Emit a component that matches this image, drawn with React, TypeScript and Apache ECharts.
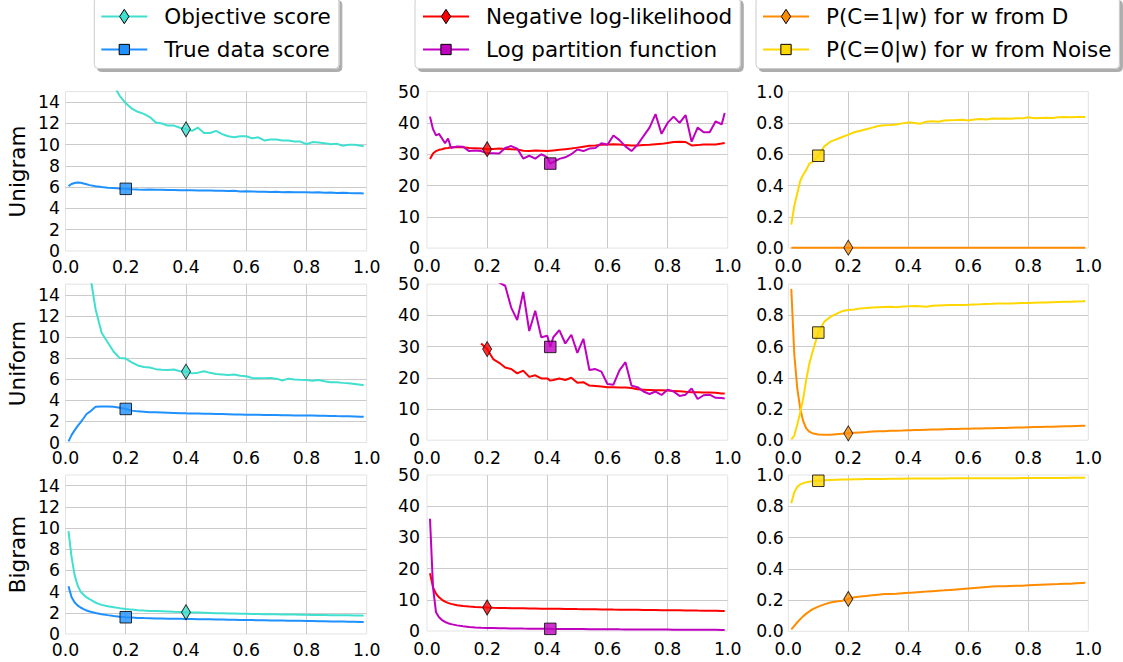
import { useEffect, useRef } from 'react';
import * as echarts from 'echarts';

// shared x positions (fraction of training)
const X = [0.01,0.02,0.03,0.04,0.05,0.06,0.07,0.08,
  0.10,0.12,0.14,0.16,0.18,0.20,0.22,0.24,
  0.26,0.28,0.30,0.32,0.34,0.36,0.38,0.40,
  0.41,0.42,0.44,0.46,0.48,0.50,0.52,0.54,
  0.56,0.58,0.60,0.62,0.64,0.66,0.68,0.70,
  0.72,0.74,0.76,0.78,0.80,0.82,0.84,0.86,
  0.88,0.90,0.92,0.94,0.96,0.98,0.99];

const ROW_NAMES = ['Unigram', 'Uniform', 'Bigram'];
const SERIES_NAMES = ['Objective score', 'True data score', 'Negative log-likelihood', 'Log partition function', 'P(C=1|w) for w from D', 'P(C=0|w) for w from Noise'];
const SERIES_COLORS = ['#40E0D0', '#1E90FF', '#FF0000', '#BF00BF', '#FF8C00', '#FFD700'];
const SERIES_MARKER = ['diamond', 'square', 'diamond', 'square', 'diamond', 'square'];
const MARK_X = [0.4, 0.2, 0.2, 0.41, 0.2, 0.1];

const X_TICKS = [0, 0.2, 0.4, 0.6, 0.8, 1.0];
const Y_RANGES = [[0, 15, 2], [0, 50, 10], [0, 1, 0.2]];

// ---- Unigram ----
const UNI_OBJ = [40,37,34,31,28,26,24,22.5,
  20,18.3,16.8,15.6,14.6,13.9,13.4,13.1,
  12.9,12.6,12.1,12.0,11.8,11.8,11.6,11.45,
  11.4,11.3,11.6,11.1,11.1,11.3,11.0,10.8,
  10.7,10.8,10.8,10.6,10.7,10.4,10.5,10.5,
  10.4,10.4,10.3,10.3,10.05,10.25,10.2,10.15,
  10.05,10.1,9.9,10.0,10.0,9.9,9.85];
const UNI_TRUE = [6.1,6.3,6.4,6.45,6.42,6.35,6.28,6.2,
  6.1,6.02,5.95,5.92,5.88,5.85,5.8,5.78,
  5.77,5.78,5.76,5.77,5.74,5.75,5.72,5.72,
  5.71,5.71,5.7,5.69,5.7,5.66,5.67,5.64,
  5.66,5.6,5.62,5.6,5.58,5.58,5.56,5.57,
  5.54,5.55,5.53,5.52,5.54,5.5,5.52,5.48,
  5.5,5.46,5.47,5.45,5.44,5.43,5.42];
const UNI_NLL = [28.5,30.2,31.0,31.4,31.6,31.9,32.0,32.2,
  32.3,32.2,32.0,31.9,31.8,31.6,31.7,31.8,
  31.7,31.6,31.5,31.1,31.0,31.2,31.1,31.0,
  31.1,31.2,31.4,31.6,31.8,32.1,32.4,32.7,
  32.8,33.0,33.1,33.2,33.1,32.9,32.8,32.8,
  32.9,33.0,33.2,33.3,33.6,33.9,34.0,33.9,
  32.8,32.9,33.1,33.1,33.1,33.4,33.6];
const UNI_LOGZ = [42,38,36,36.5,35,33.5,35,32,
  32.5,32.4,31.0,31.2,31.0,30.3,30.3,30.2,
  32.0,32.6,31.8,28.6,29.5,28.6,30.0,29.0,
  27.0,27.5,28.5,29.0,30.0,31.5,31.0,31.8,
  32.0,33.5,33.0,36.0,34.5,32.5,31.0,33.0,
  35.8,38.5,42.8,36.5,40.0,42.0,40.0,42.5,
  34.0,38.5,37.0,37.0,40.5,39.5,43.2];
const UNI_D = [0.003,0.003,0.003,0.003,0.003,0.003,0.003,0.003,
  0.003,0.003,0.003,0.003,0.003,0.003,0.003,0.003,
  0.003,0.003,0.003,0.003,0.003,0.003,0.003,0.003,
  0.003,0.003,0.003,0.003,0.003,0.003,0.003,0.003,
  0.003,0.003,0.003,0.003,0.003,0.003,0.003,0.003,
  0.003,0.003,0.003,0.003,0.003,0.003,0.003,0.003,
  0.003,0.003,0.003,0.003,0.003,0.003,0.003];
const UNI_NOISE = [0.15,0.27,0.35,0.43,0.47,0.5,0.54,0.55,
  0.59,0.65,0.68,0.695,0.71,0.725,0.74,0.75,
  0.76,0.77,0.78,0.785,0.787,0.79,0.797,0.803,
  0.802,0.80,0.795,0.808,0.81,0.808,0.815,0.817,
  0.818,0.82,0.815,0.822,0.825,0.822,0.828,0.826,
  0.828,0.827,0.83,0.829,0.836,0.83,0.832,0.833,
  0.832,0.836,0.838,0.836,0.837,0.838,0.838];

// ---- Uniform ----
const UNF_OBJ = [45,38,32,27,23,20,18,16.2,
  12.6,10.4,9.5,8.6,8.0,7.95,7.6,7.3,
  7.15,7.1,6.95,6.9,6.88,6.92,6.75,6.72,
  6.65,6.55,6.62,6.75,6.6,6.5,6.45,6.4,
  6.45,6.32,6.28,6.12,6.08,6.1,6.12,6.05,
  5.88,6.05,5.98,5.94,5.92,5.85,5.92,5.8,
  5.72,5.7,5.65,5.62,5.55,5.47,5.43];
const UNF_TRUE = [0.1,0.7,1.15,1.55,1.9,2.3,2.7,2.9,
  3.38,3.42,3.42,3.38,3.3,3.18,3.02,2.95,
  2.92,2.87,2.86,2.84,2.82,2.8,2.78,2.76,
  2.755,2.75,2.74,2.73,2.72,2.7,2.69,2.68,
  2.66,2.65,2.63,2.63,2.62,2.61,2.6,2.6,
  2.58,2.58,2.57,2.57,2.56,2.55,2.54,2.53,
  2.52,2.5,2.49,2.48,2.46,2.44,2.43];
const UNF_NLL = [null,null,null,null,null,null,null,null,
  null,null,null,null,31.0,29.2,26.0,24.8,
  23.3,22.8,21.4,22.3,20.3,20.8,19.8,19.8,
  19.1,19.3,19.8,19.3,20.0,18.4,18.6,17.5,
  17.4,17.2,17.0,17.0,16.9,16.9,16.7,16.3,
  16.2,16.1,16.0,16.0,15.9,15.8,15.7,15.5,
  15.4,15.4,15.3,15.3,15.2,15.0,15.0];
const UNF_LOGZ = [null,null,null,null,null,null,null,null,
  null,null,null,null,62,58,54,50.5,
  49.5,42.5,38.5,47.5,35.0,41.5,33.0,33.5,
  29.9,33.0,35.3,31.0,33.8,28.0,32.5,22.5,
  22.8,22.0,18.0,17.8,22.4,25.0,17.5,17.0,
  15.6,14.8,15.6,14.5,16.2,15.6,14.2,14.6,
  16.6,13.2,14.4,14.6,13.6,13.5,13.4];
const UNF_D = [0.97,0.55,0.33,0.2,0.12,0.075,0.055,0.045,
  0.037,0.035,0.035,0.038,0.041,0.044,0.047,0.05,
  0.052,0.055,0.057,0.058,0.06,0.061,0.062,0.064,
  0.064,0.065,0.066,0.067,0.068,0.069,0.07,0.071,
  0.072,0.073,0.074,0.075,0.075,0.076,0.077,0.078,
  0.079,0.08,0.081,0.082,0.083,0.084,0.085,0.086,
  0.087,0.088,0.089,0.09,0.091,0.092,0.092];
const UNF_NOISE = [0.005,0.03,0.1,0.18,0.27,0.39,0.49,0.56,
  0.69,0.76,0.79,0.81,0.828,0.834,0.838,0.845,
  0.847,0.85,0.852,0.854,0.855,0.852,0.857,0.858,
  0.859,0.86,0.858,0.855,0.862,0.864,0.865,0.866,
  0.866,0.867,0.868,0.87,0.871,0.873,0.874,0.876,
  0.876,0.877,0.878,0.879,0.88,0.881,0.882,0.883,
  0.885,0.886,0.887,0.888,0.889,0.89,0.891];

// ---- Bigram ----
const BI_OBJ = [9.7,7.3,5.6,4.6,4.0,3.7,3.45,3.28,
  2.95,2.75,2.62,2.53,2.44,2.36,2.3,2.25,
  2.21,2.18,2.16,2.14,2.12,2.09,2.07,2.05,
  2.045,2.04,2.02,2.0,1.98,1.96,1.95,1.94,
  1.93,1.91,1.9,1.89,1.88,1.87,1.87,1.86,
  1.85,1.84,1.83,1.82,1.81,1.8,1.8,1.79,
  1.78,1.77,1.77,1.76,1.75,1.74,1.74];
const BI_TRUE = [4.5,3.5,3.0,2.7,2.5,2.35,2.22,2.12,
  1.98,1.87,1.78,1.7,1.63,1.58,1.55,1.52,
  1.5,1.49,1.47,1.46,1.45,1.44,1.43,1.42,
  1.415,1.41,1.4,1.39,1.38,1.37,1.36,1.35,
  1.34,1.33,1.32,1.31,1.3,1.29,1.28,1.28,
  1.27,1.26,1.25,1.24,1.23,1.22,1.21,1.2,
  1.19,1.18,1.17,1.16,1.15,1.14,1.14];
const BI_NLL = [18.5,14.0,12.0,10.8,10.0,9.4,9.0,8.7,
  8.25,8.0,7.85,7.72,7.6,7.52,7.45,7.4,
  7.36,7.32,7.29,7.26,7.23,7.2,7.17,7.15,
  7.14,7.12,7.1,7.07,7.05,7.02,7.0,6.97,
  6.95,6.92,6.9,6.87,6.85,6.83,6.8,6.78,
  6.76,6.73,6.71,6.69,6.67,6.64,6.62,6.6,
  6.58,6.55,6.53,6.5,6.48,6.45,6.44];
const BI_LOGZ = [36,14,6.0,4.4,3.5,2.9,2.5,2.2,
  1.8,1.5,1.3,1.15,1.05,0.98,0.93,0.88,
  0.85,0.82,0.8,0.77,0.75,0.73,0.71,0.7,
  0.69,0.68,0.67,0.65,0.64,0.62,0.61,0.6,
  0.58,0.57,0.56,0.55,0.53,0.52,0.51,0.5,
  0.49,0.48,0.47,0.46,0.45,0.44,0.43,0.42,
  0.41,0.4,0.39,0.38,0.37,0.36,0.35];
const BI_D = [0.012,0.035,0.058,0.078,0.097,0.113,0.127,0.14,
  0.158,0.172,0.184,0.19,0.196,0.207,0.218,0.222,
  0.226,0.23,0.234,0.238,0.239,0.241,0.244,0.246,
  0.247,0.249,0.252,0.254,0.257,0.26,0.262,0.265,
  0.268,0.271,0.274,0.277,0.28,0.283,0.286,0.288,
  0.289,0.29,0.291,0.292,0.294,0.296,0.298,0.3,
  0.301,0.302,0.304,0.305,0.307,0.309,0.31];
const BI_NOISE = [0.82,0.89,0.925,0.94,0.948,0.953,0.957,0.96,
  0.963,0.966,0.968,0.97,0.971,0.972,0.973,0.973,
  0.974,0.974,0.975,0.975,0.976,0.976,0.976,0.977,
  0.977,0.977,0.977,0.978,0.978,0.978,0.978,0.979,
  0.979,0.979,0.979,0.979,0.98,0.98,0.98,0.98,
  0.98,0.98,0.98,0.981,0.981,0.981,0.981,0.981,
  0.981,0.981,0.981,0.982,0.982,0.982,0.982];

const ROW_DATA = [
  [UNI_OBJ, UNI_TRUE, UNI_NLL, UNI_LOGZ, UNI_D, UNI_NOISE],
  [UNF_OBJ, UNF_TRUE, UNF_NLL, UNF_LOGZ, UNF_D, UNF_NOISE],
  [BI_OBJ, BI_TRUE, BI_NLL, BI_LOGZ, BI_D, BI_NOISE],
];

// ---- layout (pixels) ----
const FONT = 'DejaVu Sans';
const COL_LEFT = [65.5, 427, 788.3];
const COL_WIDTH = [301.2, 300.7, 300];
const ROW_TOP = [91.6, 284.2, 475];
const GRID_H = [[159.4, 158.3, 159], [156.5, 156, 156], [156.5, 156, 156.3]];
const X_LABEL_MARGIN = [7, 9.5, 9.5];
const Y_LABEL_MARGIN = [5.5, 7, 4.5];
const LEGEND_LEFT = [94.3, 415, 756];
const LEGEND_PAD_LEFT = [6, 7, 6];
const ROW_LABEL_Y = [171.5, 363.5, 554.5];

const DIAMOND_PATH = 'path://M0,0M14,14M7,0L11.5,7L7,14L2.5,7Z';
const SQUARE_PATH = 'path://M0,0M14,14M2,2L12,2L12,12L2,12Z';

function buildOption() {
  const grid: any[] = [];
  const xAxis: any[] = [];
  const yAxis: any[] = [];
  const series: any[] = [];
  for (let r = 0; r < 3; r++) {
    for (let c = 0; c < 3; c++) {
      const idx = r * 3 + c;
      grid.push({
        left: COL_LEFT[c], top: ROW_TOP[r], width: COL_WIDTH[c], height: GRID_H[c][r],
        show: true, borderColor: '#e3e3e3', borderWidth: 1, backgroundColor: '#fff',
      });
      xAxis.push({
        type: 'value', gridIndex: idx, min: X_TICKS[0], max: X_TICKS[X_TICKS.length - 1], interval: 0.2,
        axisLine: { show: false }, axisTick: { show: false },
        splitLine: { show: true, showMinLine: false, showMaxLine: false, lineStyle: { color: '#cbcbcb', width: 1 } },
        axisLabel: { margin: X_LABEL_MARGIN[c], fontSize: 17.3, fontFamily: FONT, color: '#000',
          formatter: (v: number) => v.toFixed(1) },
      });
      const [ymin, ymax, yint] = Y_RANGES[c];
      yAxis.push({
        type: 'value', gridIndex: idx, min: ymin, max: ymax, interval: yint,
        axisLine: { show: false }, axisTick: { show: false },
        splitLine: { show: true, showMinLine: false, showMaxLine: false, lineStyle: { color: '#cbcbcb', width: 1 } },
        axisLabel: { margin: Y_LABEL_MARGIN[c], fontSize: 17.3, lineHeight: 13, fontFamily: FONT, color: '#000',
          showMaxLabel: c !== 0,
          formatter: (v: number) => (c === 2 ? v.toFixed(1) : String(Math.round(v))) },
      });
      const markers: any[] = [];
      for (let k = 0; k < 2; k++) {
        const si = c * 2 + k;
        const arr = ROW_DATA[r][si];
        const data = X.map((x, i) => [x, arr[i]]).filter((p) => p[1] !== null);
        const isDiamond = SERIES_MARKER[si] === 'diamond';
        series.push({
          type: 'line', name: SERIES_NAMES[si], xAxisIndex: idx, yAxisIndex: idx,
          data, showSymbol: false, symbol: isDiamond ? DIAMOND_PATH : SQUARE_PATH, symbolSize: 14,
          color: SERIES_COLORS[si],
          lineStyle: { color: SERIES_COLORS[si], width: 2 },
          itemStyle: { color: SERIES_COLORS[si], borderColor: '#000', borderWidth: 1 },
          clip: true, silent: true, z: 2,
        });
        const mi = X.indexOf(MARK_X[si]);
        markers.push({
          value: [MARK_X[si], arr[mi]],
          symbol: isDiamond ? 'diamond' : 'rect',
          symbolSize: isDiamond ? [9, 15] : 11.5,
          itemStyle: { color: SERIES_COLORS[si], borderColor: '#000', borderWidth: 1 },
        });
      }
      series.push({ type: 'scatter', xAxisIndex: idx, yAxisIndex: idx, data: markers, silent: true, z: 3 });
    }
  }
  const legend = [0, 1, 2].map((c) => ({
    show: true, orient: 'vertical', left: LEGEND_LEFT[c], top: -2.5,
    data: [SERIES_NAMES[c * 2], SERIES_NAMES[c * 2 + 1]],
    itemWidth: 46, itemHeight: 18, itemGap: 11,
    padding: [8, 8, 8, LEGEND_PAD_LEFT[c]],
    backgroundColor: '#fff', borderColor: '#cccccc', borderWidth: 1, borderRadius: 4,
    shadowColor: 'rgba(0,0,0,0.32)', shadowOffsetX: 3, shadowOffsetY: 3, shadowBlur: 0,
    selectedMode: false,
    itemStyle: { borderColor: '#000', borderWidth: 1 },
    textStyle: { fontFamily: FONT, fontSize: 21.5, color: '#000', padding: [0, 0, 0, 12] },
  }));
  const graphic = ROW_NAMES.map((name, r) => ({
    type: 'text', x: 17, y: ROW_LABEL_Y[r], rotation: Math.PI / 2, silent: true,
    style: { text: name, fontFamily: FONT, fontSize: 21.5, fill: '#000',
      textAlign: 'center', textVerticalAlign: 'middle', align: 'center', verticalAlign: 'middle' },
  }));
  return { animation: false, backgroundColor: '#fff', grid, xAxis, yAxis, series, legend, graphic };
}

export default function App() {
  const ref = useRef<HTMLDivElement>(null);
  useEffect(() => {
    const chart = echarts.init(ref.current!, null, { renderer: 'svg' });
    chart.setOption(buildOption() as any);
    return () => chart.dispose();
  }, []);
  return <div ref={ref} style={{ position: 'absolute', left: 0, top: 0, width: 1123, height: 662 }} />;
}
